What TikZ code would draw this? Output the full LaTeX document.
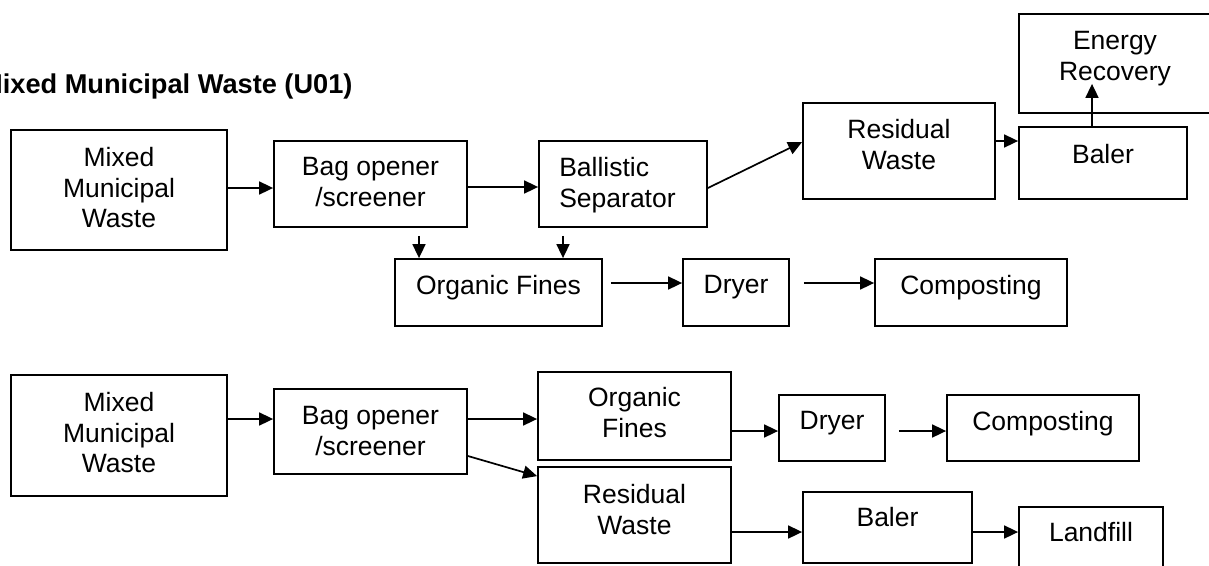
\documentclass[tikz,border=0pt]{standalone}
\usepackage{fontspec}
\setmainfont{Liberation Sans}
\usetikzlibrary{arrows, arrows.meta}
\usetikzlibrary{calc}

\begin{document}
\begin{tikzpicture}[x=1pt, y=-1pt,
    box/.style={draw, line width=1.8pt, inner sep=0pt},
    txt/.style={inner sep=0pt, anchor=north, align=center, font=\fontsize{26.5pt}{30.5pt}\selectfont},
    arr/.style={line width=1.7pt, -{Triangle[length=14pt, width=13pt]}}]
    \useasboundingbox (0,0) rectangle (1209,565);

    \node[anchor=base west, inner sep=0pt, font=\bfseries\fontsize{27.2pt}{31pt}\selectfont] (title) at (-20,93) {Mixed Municipal Waste (U01)};

    \node[box, minimum width=216, minimum height=120] (mmw1) at (119,190) {};
    \node[box, minimum width=193, minimum height=86] (bag1) at (370.5,184) {};
    \node[box, minimum width=168, minimum height=86] (ball) at (623,184) {};
    \node[box, minimum width=192, minimum height=96] (res1) at (899,151) {};
    \node[box, minimum width=168, minimum height=72] (baler1) at (1103,163) {};
    \node[box, minimum width=200, minimum height=99] (energy) at (1119,63.5) {};
    \node[box, minimum width=207, minimum height=67] (of1) at (498.5,292.5) {};
    \node[box, minimum width=106, minimum height=67] (dryer1) at (736,292.5) {};
    \node[box, minimum width=192, minimum height=67] (comp1) at (971,292.5) {};

    \node[txt] (mmw1-t) at ([yshift=-18pt]mmw1.north) {Mixed\\Municipal\\Waste};
    \node[txt] (bag1-t) at ([yshift=-17pt]bag1.north) {Bag opener\\/screener};
    \node[txt, anchor=north west, align=left] (ball-t) at ([xshift=21pt, yshift=-17pt]ball.north west) {Ballistic\\Separator};
    \node[txt] (res1-t) at ([yshift=-17pt]res1.north) {Residual\\Waste};
    \node[txt] (baler1-t) at ([yshift=-18pt]baler1.north) {Baler};
    \node[txt] (energy-t) at ([xshift=-4pt, yshift=-18pt]energy.north) {Energy\\Recovery};
    \node[txt] (of1-t) at ([yshift=-17pt]of1.north) {Organic Fines};
    \node[txt] (dryer1-t) at ([yshift=-17pt]dryer1.north) {Dryer};
    \node[txt] (comp1-t) at ([yshift=-17pt]comp1.north) {Composting};

    \node[box, minimum width=216, minimum height=121] (mmw2) at (119,435.5) {};
    \node[box, minimum width=193, minimum height=85] (bag2) at (370.5,431.5) {};
    \node[box, minimum width=193, minimum height=88] (of2) at (634.5,416) {};
    \node[box, minimum width=193, minimum height=96] (res2) at (634.5,515) {};
    \node[box, minimum width=106, minimum height=66] (dryer2) at (832,428) {};
    \node[box, minimum width=192, minimum height=66] (comp2) at (1043,428) {};
    \node[box, minimum width=169, minimum height=71] (baler2) at (887.5,527.5) {};
    \node[box, minimum width=144, minimum height=68] (landfill) at (1091,541) {};

    \node[txt] (mmw2-t) at ([yshift=-18pt]mmw2.north) {Mixed\\Municipal\\Waste};
    \node[txt] (bag2-t) at ([yshift=-18pt]bag2.north) {Bag opener\\/screener};
    \node[txt] (of2-t) at ([yshift=-16pt]of2.north) {Organic\\Fines};
    \node[txt] (res2-t) at ([yshift=-18pt]res2.north) {Residual\\Waste};
    \node[txt] (dryer2-t) at ([yshift=-17pt]dryer2.north) {Dryer};
    \node[txt] (comp2-t) at ([yshift=-17pt]comp2.north) {Composting};
    \node[txt] (baler2-t) at ([yshift=-16pt]baler2.north) {Baler};
    \node[txt] (landfill-t) at ([yshift=-16pt]landfill.north) {Landfill};

    \draw[arr] ([yshift=2pt]mmw1.east) -- ([yshift=2pt]mmw1.east -| bag1.west);
    \draw[arr] ([yshift=-3pt]bag1.east) -- ([yshift=-3pt]ball.west);
    \draw[arr] ([yshift=-4pt]ball.east) -- ([yshift=9pt]res1.west);
    \draw[arr] ([yshift=10pt]res1.east) -- ([yshift=10pt]res1.east -| baler1.west);
    \draw[arr] ([xshift=-11pt]baler1.north) -- ([xshift=-11pt, yshift=30pt]baler1.north |- energy.south);
    \draw[arr] ([xshift=48.5pt, yshift=-8pt]bag1.south) -- ([xshift=48.5pt]bag1.south |- of1.north);
    \draw[arr] ([xshift=-60pt, yshift=-8pt]ball.south) -- ([xshift=-60pt]ball.south |- of1.north);
    \draw[arr] ([xshift=8pt, yshift=9.5pt]of1.east) -- ([yshift=9.5pt]dryer1.west);
    \draw[arr] ([xshift=14pt, yshift=9.5pt]dryer1.east) -- ([yshift=9.5pt]comp1.west);

    \draw[arr] ([yshift=16.5pt]mmw2.east) -- ([yshift=16.5pt]mmw2.east -| bag2.west);
    \draw[arr] ([yshift=12.5pt]bag2.east) -- ([yshift=12.5pt]bag2.east -| of2.west);
    \draw[arr] ([yshift=-24.5pt]bag2.east) -- ([yshift=-10pt]res2.north west);
    \draw[arr] ([yshift=-15pt]of2.east) -- ([yshift=-15pt]of2.east -| dryer2.west);
    \draw[arr] ([xshift=13pt, yshift=-3pt]dryer2.east) -- ([yshift=-3pt]comp2.west);
    \draw[arr] ([yshift=-17pt]res2.east) -- ([yshift=-17pt]res2.east -| baler2.west);
    \draw[arr] ([yshift=-4.5pt]baler2.east) -- ([yshift=-4.5pt]baler2.east -| landfill.west);
\end{tikzpicture}
\end{document}
